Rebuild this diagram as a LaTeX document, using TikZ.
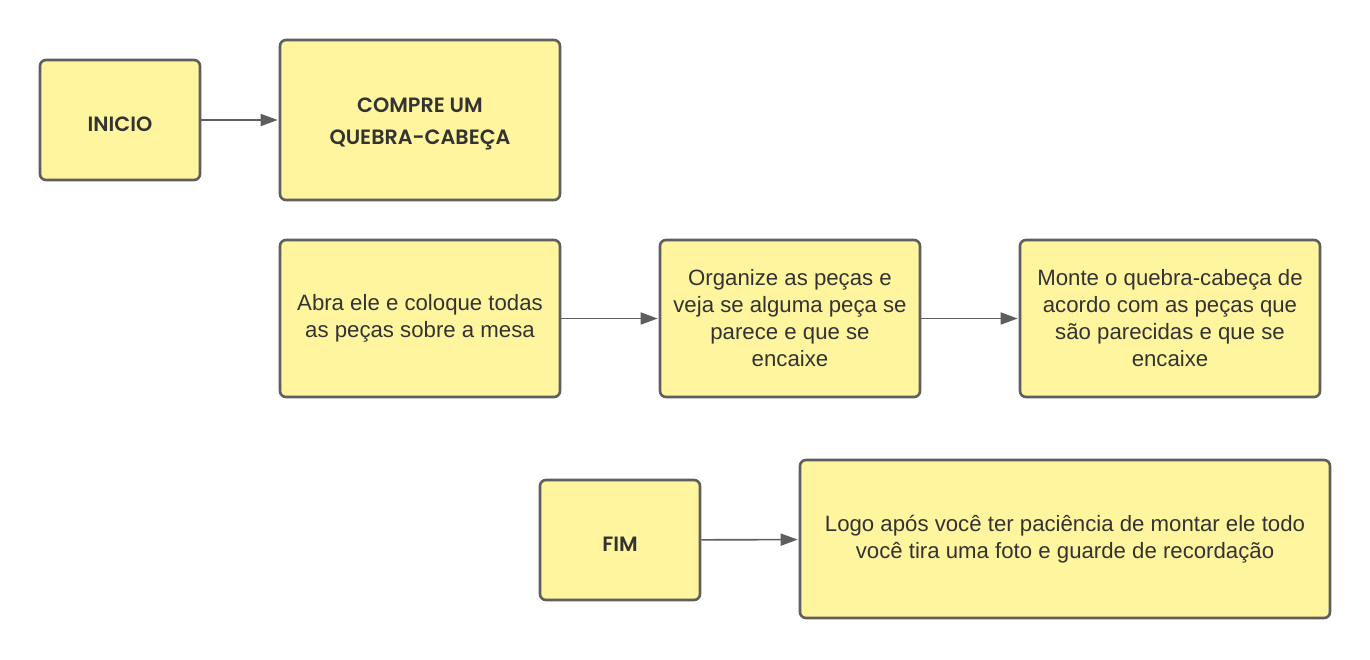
\documentclass[tikz,border=0pt]{standalone}
\usepackage{fontspec}
\setmainfont{Liberation Sans}
\newfontfamily\comicfont{Poppins}[UprightFont=* SemiBold]
\usetikzlibrary{arrows.meta}
\definecolor{boxfill}{HTML}{FFF59F}
\definecolor{boxline}{HTML}{5E5E5E}
\definecolor{txt}{HTML}{333333}
\newcommand{\lowered}[1]{\raisebox{-4pt}[\height][\depth]{#1}}
\tikzset{
  box/.style={draw=boxline, fill=boxfill, line width=2.6pt, rounded corners=6pt,
    text=txt, align=center, inner sep=0pt, font=\fontsize{22.2}{27}\selectfont},
  comicbox/.style={box, font=\comicfont\fontsize{20.7}{32}\selectfont},
  conn/.style={draw=boxline, line width=1.6pt, -{Triangle[length=17pt,width=12pt]}, shorten >=1pt}
}
\begin{document}
\begin{tikzpicture}[x=1pt,y=-1pt]
\useasboundingbox (0,0) rectangle (1370,659);
\node[comicbox, minimum width=160pt, minimum height=120pt] (inicio) at (120,120) {\lowered{INICIO}};
\node[comicbox, minimum width=280pt, minimum height=160pt] (compre) at (420,120) {\lowered{COMPRE UM}\\\lowered{QUEBRA-CABEÇA}};
\node[box, minimum width=280pt, minimum height=157pt] (abra) at (420,318.5) {Abra ele e coloque todas\\as peças sobre a mesa};
\node[box, minimum width=260pt, minimum height=157pt] (organize) at (790,318.5) {Organize as peças e\\veja se alguma peça se\\parece e que se\\encaixe};
\node[box, minimum width=300pt, minimum height=157pt] (monte) at (1170,318.5) {Monte o quebra-cabeça de\\acordo com as peças que\\são parecidas e que se\\encaixe};
\node[comicbox, minimum width=160pt, minimum height=120pt] (fim) at (620,540) {\lowered{FIM}};
\node[box, minimum width=530pt, minimum height=158pt] (logo) at (1065,539) {Logo após você ter paciência de montar ele todo\\você tira uma foto e guarde de recordação};
\draw[conn] (inicio) -- (compre);
\draw[conn] (abra) -- (organize);
\draw[conn] (organize) -- (monte);
\draw[conn] (fim) -- (logo);
\end{tikzpicture}
\end{document}
